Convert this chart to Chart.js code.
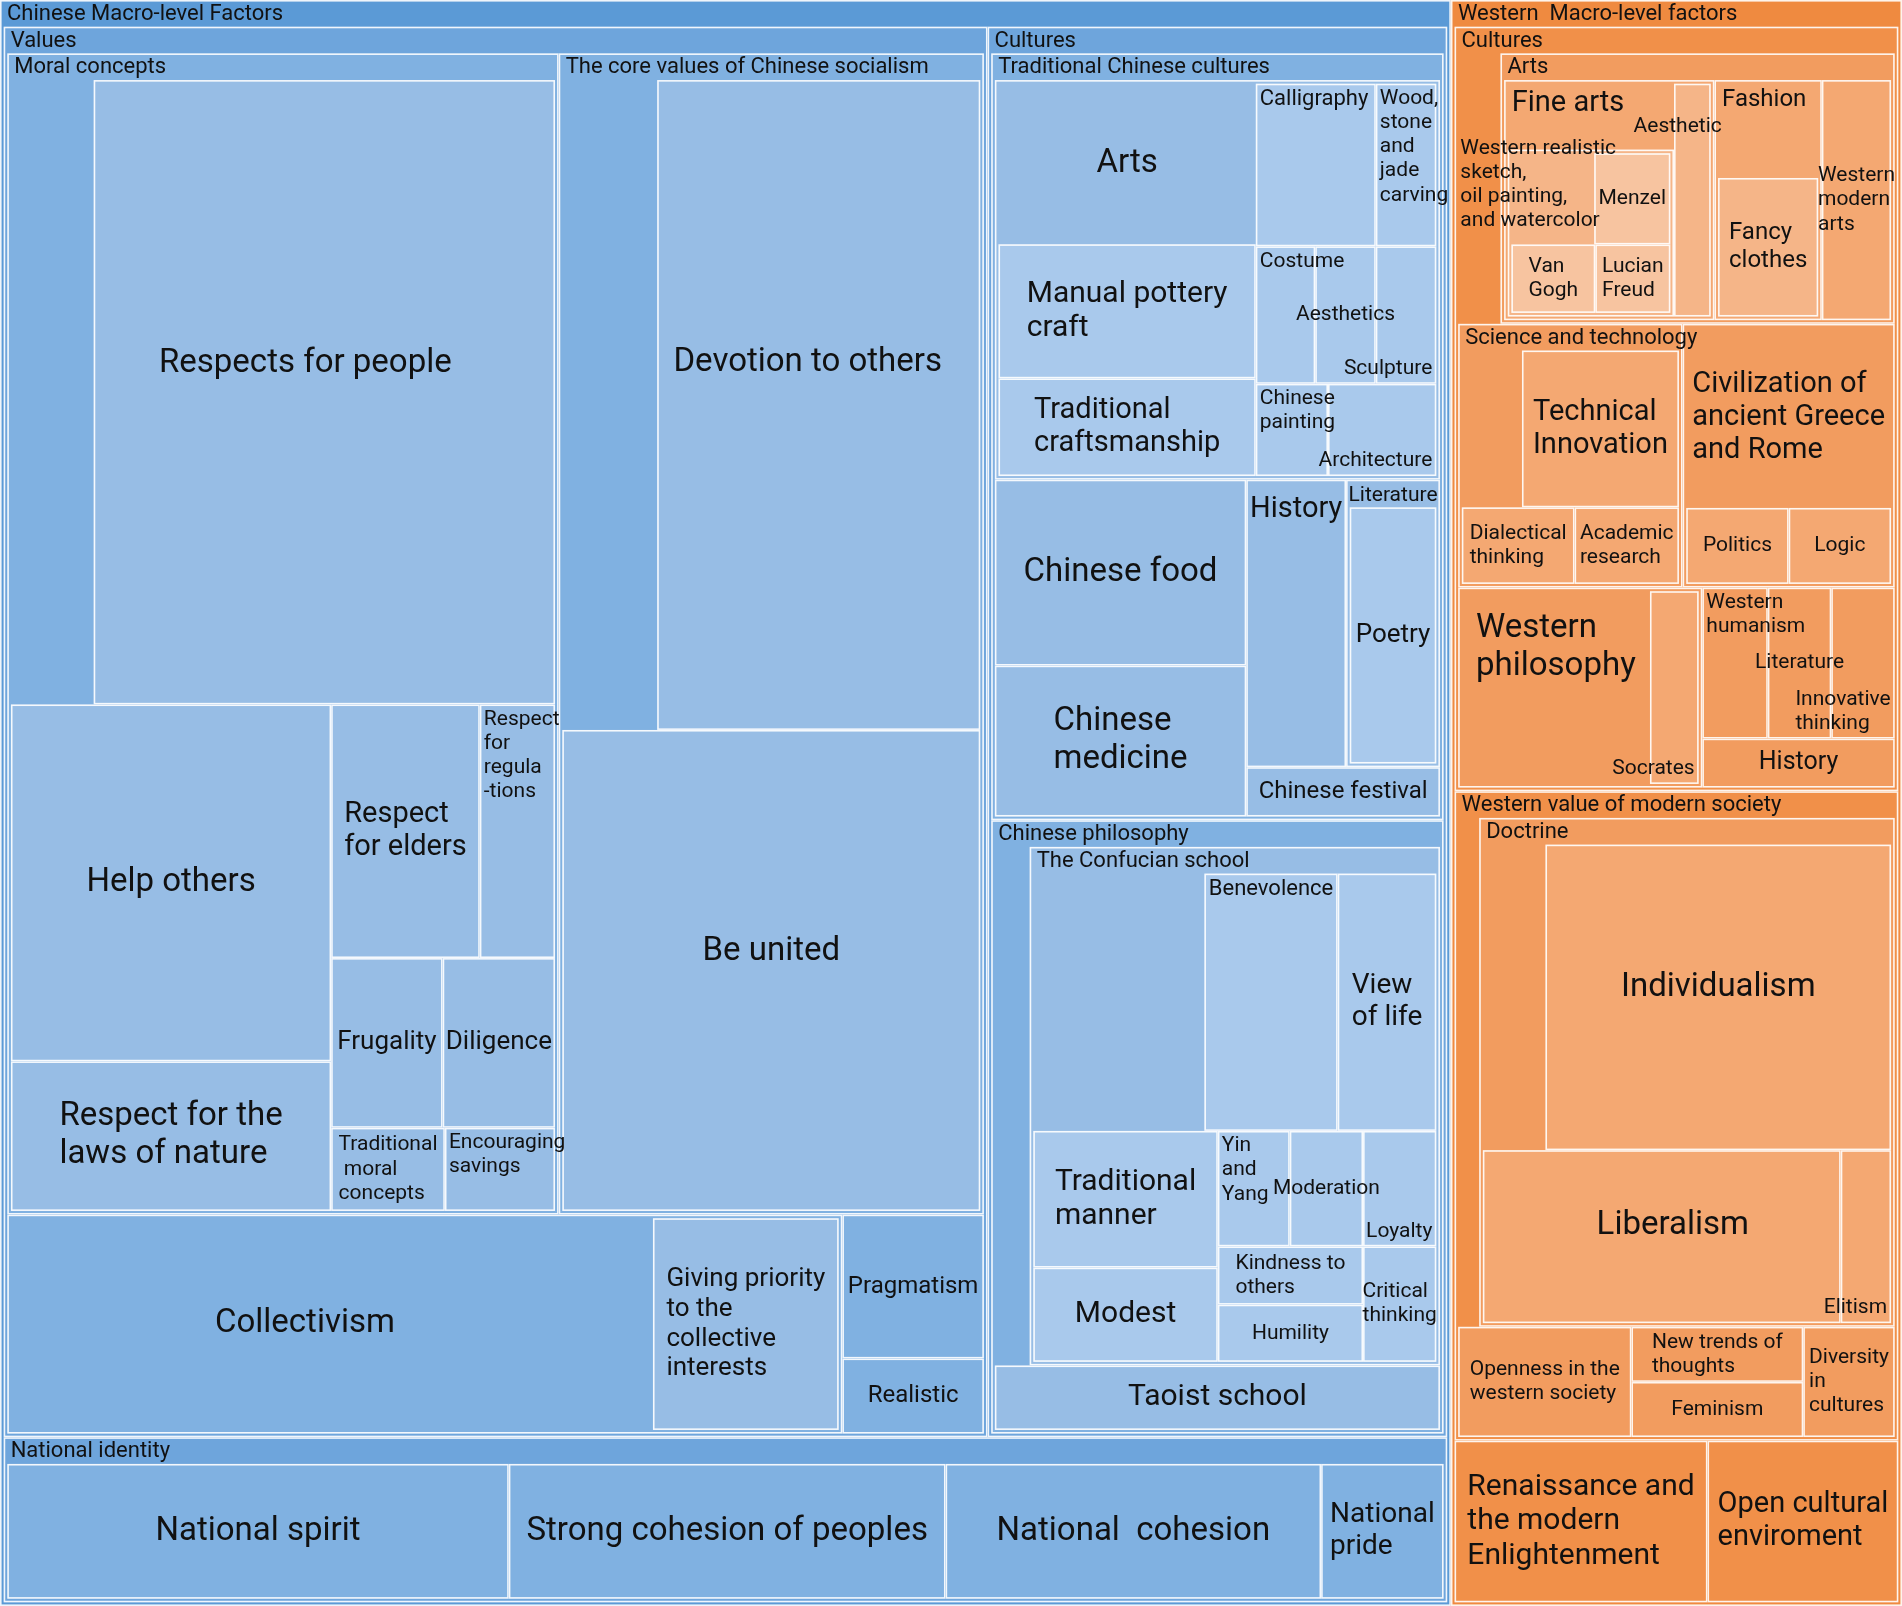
<!DOCTYPE html>
<html>
<head>
<meta charset="utf-8">
<script src="https://cdn.jsdelivr.net/npm/chart.js@4.4.1/dist/chart.umd.min.js"></script>
<style>
  html, body { margin: 0; padding: 0; background: #fff; }
  #wrap { width: 1902px; height: 1606px; }
</style>
</head>
<body>
<div id="wrap"><canvas id="treemap"></canvas></div>
<script>
// each row: id, parent id, label, value (cell area), own value (parent area left visible)
const chineseRows = [
  ['cn', null, 'Chinese Macro-level Factors', 15811],
  ['cnV', 'cn', 'Values', 9345],
  ['cnC', 'cn', 'Cultures', 4366],
  ['cnN', 'cn', 'National identity', 1605],
  ['mor', 'cnV', 'Moral concepts', 4275, 344],
  ['core', 'cnV', 'The core values of Chinese socialism', 3297, 407],
  ['col', 'cnV', 'Collectivism', 1221, 947],
  ['prag', 'cnV', 'Pragmatism', 136],
  ['real', 'cnV', 'Realistic', 71],
  ['resp', 'mor', 'Respects for people', 1918],
  ['help', 'mor', 'Help others', 761],
  ['laws', 'mor', 'Respect for the\nlaws of nature', 319],
  ['eld', 'mor', 'Respect\nfor elders', 251],
  ['reg', 'mor', 'Respect\nfor\nregula\n-tions', 127],
  ['frug', 'mor', 'Frugality', 126],
  ['dil', 'mor', 'Diligence', 127],
  ['tmc', 'mor', 'Traditional\n moral\nconcepts', 63],
  ['sav', 'mor', 'Encouraging\nsavings', 61],
  ['dev', 'core', 'Devotion to others', 1386],
  ['uni', 'core', 'Be united', 1327],
  ['give', 'col', 'Giving priority\nto the\ncollective\ninterests', 274],
  ['tcc', 'cnC', 'Traditional Chinese cultures', 2294],
  ['phil', 'cnC', 'Chinese philosophy', 1835, 117],
  ['arts', 'tcc', 'Arts', 1153, 273],
  ['food', 'tcc', 'Chinese food', 303],
  ['med', 'tcc', 'Chinese\nmedicine', 246],
  ['his', 'tcc', 'History', 186],
  ['lit', 'tcc', 'Literature', 175, 15],
  ['fest', 'tcc', 'Chinese festival', 62],
  ['pot', 'arts', 'Manual pottery\ncraft', 228],
  ['craft', 'arts', 'Traditional\ncraftsmanship', 166],
  ['cal', 'arts', 'Calligraphy', 129],
  ['wood', 'arts', 'Wood,\nstone\nand\njade\ncarving', 65],
  ['cos', 'arts', 'Costume', 54],
  ['aes', 'arts', 'Aesthetics', 55],
  ['scu', 'arts', 'Sculpture', 55],
  ['pai', 'arts', 'Chinese\npainting', 44],
  ['arc', 'arts', 'Architecture', 66],
  ['poe', 'lit', 'Poetry', 160],
  ['conf', 'phil', 'The Confucian school', 1379, 281],
  ['tao', 'phil', 'Taoist school', 186],
  ['ben', 'conf', 'Benevolence', 219],
  ['view', 'conf', 'View\nof life', 162],
  ['man', 'conf', 'Traditional\nmanner', 161],
  ['mod', 'conf', 'Modest', 111],
  ['yin', 'conf', 'Yin\nand\nYang', 53],
  ['mode', 'conf', 'Moderation', 54],
  ['loy', 'conf', 'Loyalty', 54],
  ['kind', 'conf', 'Kindness to\nothers', 54],
  ['hum', 'conf', 'Humility', 53],
  ['crit', 'conf', 'Critical\nthinking', 54],
  ['spi', 'cnN', 'National spirit', 434],
  ['str', 'cnN', 'Strong cohesion of peoples', 378],
  ['coh', 'cnN', 'National  cohesion', 325],
  ['pri', 'cnN', 'National\npride', 106]
];

const westernRows = [
  ['we', null, 'Western  Macro-level factors', 4916],
  ['weC', 'we', 'Cultures', 2265, 74],
  ['weV', 'we', 'Western value of modern society', 1924, 70],
  ['ren', 'we', 'Renaissance and\nthe modern\nEnlightenment', 273],
  ['open', 'we', 'Open cultural\nenviroment', 206],
  ['wart', 'weC', 'Arts', 690],
  ['st', 'weC', 'Science and technology', 383, 59],
  ['civ', 'weC', 'Civilization of\nancient Greece\nand Rome', 362, 247],
  ['wph', 'weC', 'Western\nphilosophy', 316, 251],
  ['whu', 'weC', 'Western\nhumanism', 64],
  ['wlit', 'weC', 'Literature', 62],
  ['inn', 'weC', 'Innovative\nthinking', 62],
  ['whis', 'weC', 'History', 61],
  ['fine', 'wart', 'Fine arts', 319, 73],
  ['fash', 'wart', 'Fashion', 163, 66],
  ['wma', 'wart', 'Western\nmodern\narts', 105],
  ['wr', 'fine', 'Western realistic\nsketch,\noil painting,\nand watercolor', 185, 50],
  ['wae', 'fine', 'Aesthetic', 57],
  ['men', 'wr', 'Menzel', 46],
  ['van', 'wr', 'Van\nGogh', 38],
  ['luc', 'wr', 'Lucian\nFreud', 34],
  ['fan', 'fash', 'Fancy\nclothes', 97],
  ['tech', 'st', 'Technical\nInnovation', 154],
  ['dia', 'st', 'Dialectical\nthinking', 54],
  ['aca', 'st', 'Academic\nresearch', 50],
  ['pol', 'civ', 'Politics', 52],
  ['log', 'civ', 'Logic', 52],
  ['soc', 'wph', 'Socrates', 65],
  ['doc', 'weV', 'Doctrine', 1384, 123],
  ['opn', 'weV', 'Openness in the\nwestern society', 125],
  ['new', 'weV', 'New trends of\nthoughts', 62],
  ['fem', 'weV', 'Feminism', 62],
  ['div', 'weV', 'Diversity\nin\ncultures', 66],
  ['ind', 'doc', 'Individualism', 679],
  ['lib', 'doc', 'Liberalism', 398],
  ['eli', 'doc', 'Elitism', 56]
];

// how each parent slices its area: 'h' = side by side, 'v' = stacked, '@' = parent's own part
const plans = {
  root: ['h', 'cn', 'we'],
  cn: ['v', ['h', 'cnV', 'cnC'], 'cnN'],
  cnV: ['v', ['h', 'mor', 'core'], ['h', 'col', ['v', 'prag', 'real']]],
  mor: ['v', ['h', '@', 'resp'], ['h', ['v', 'help', 'laws'], ['v', ['h', 'eld', 'reg'], ['h', 'frug', 'dil'], ['h', 'tmc', 'sav']]]],
  core: ['v', ['h', '@', 'dev'], 'uni'],
  col: ['h', '@', 'give'],
  cnC: ['v', 'tcc', 'phil'],
  tcc: ['v', 'arts', ['h', ['v', 'food', 'med'], ['v', ['h', 'his', 'lit'], 'fest']]],
  arts: ['h', ['v', '@', 'pot', 'craft'], ['v', ['h', 'cal', 'wood'], ['h', 'cos', 'aes', 'scu'], ['h', 'pai', 'arc']]],
  lit: ['v', '@', 'poe'],
  phil: ['v', ['h', '@', 'conf'], 'tao'],
  conf: ['v', ['h', '@', 'ben', 'view'], ['h', ['v', 'man', 'mod'], ['v', ['h', 'yin', 'mode', 'loy'], ['h', ['v', 'kind', 'hum'], 'crit']]]],
  cnN: ['h', 'spi', 'str', 'coh', 'pri'],
  we: ['v', 'weC', 'weV', ['h', 'ren', 'open']],
  weC: ['v', ['h', '@', 'wart'], ['h', 'st', 'civ'], ['h', 'wph', ['v', ['h', 'whu', 'wlit', 'inn'], 'whis']]],
  wart: ['h', 'fine', 'fash', 'wma'],
  fine: ['h', ['v', '@', 'wr'], 'wae'],
  wr: ['v', ['h', '@', 'men'], ['h', 'van', 'luc']],
  fash: ['v', '@', 'fan'],
  st: ['v', ['h', '@', 'tech'], ['h', 'dia', 'aca']],
  civ: ['v', '@', ['h', 'pol', 'log']],
  wph: ['h', '@', 'soc'],
  weV: ['v', ['h', '@', 'doc'], ['h', 'opn', ['v', 'new', 'fem'], 'div']],
  doc: ['v', ['h', '@', 'ind'], ['h', 'lib', 'eli']]
};

const headed = ['cn', 'cnV', 'cnC', 'cnN', 'mor', 'core', 'tcc', 'phil', 'conf',
                'we', 'weC', 'weV', 'wart', 'st', 'doc'];

// label font sizes (px), default 21
const fontSizes = {
  resp: 33, dev: 33, uni: 33, help: 33, laws: 33, col: 33, spi: 33, str: 33, coh: 33,
  food: 33, med: 33, arts: 33, ind: 33, lib: 33, wph: 33,
  eld: 29, man: 30, mod: 30, tao: 30, pot: 30, craft: 29, his: 29, ren: 30, civ: 29,
  tech: 29, fine: 29, open: 29, pri: 28, view: 28,
  frug: 26, dil: 26, poe: 26, give: 26, fash: 24, fan: 24, whis: 25, fest: 24, prag: 24, real: 24,
  cal: 22, ben: 22
};
const headerSize = 22;

// label placement: [anchor, dx, dy] in px
const anchors = {
  cal: ['tl'], wood: ['tl'], cos: ['tl'], scu: ['br'], pai: ['tl'], arc: ['br'], ben: ['tc'],
  yin: ['tl'], loy: ['br'], reg: ['tl'], sav: ['tl'], his: ['tc', 0, 10], fine: ['tl'], fash: ['tl'],
  wae: ['tr', 15, 28], soc: ['br'], whu: ['tl'], inn: ['br'], eli: ['br'],
  wr: ['tl', -55, -20],
  resp: ['c', -19, -29], dev: ['c', -11, -42], uni: ['c', 0, -19], col: ['c', -27, 0],
  wph: ['c', 0, -40], ind: ['c', 0, -10], lib: ['c', 11, -11]
};

const bluePalette = ['#5b9ad6', '#6ea5dc', '#80b1e1', '#97bde5', '#a9c9ec', '#b7d2f0'];
const orangePalette = ['#ef8a40', '#f19049', '#f29c5f', '#f4a872', '#f5b588', '#f7c4a0'];

const HEAD = 22, PAD = 3;
const nodes = {};
[...chineseRows, ...westernRows].forEach(r => {
  nodes[r[0]] = { id: r[0], parent: r[1], label: r[2], value: r[3], own: r[4] || 0 };
});
Object.values(nodes).forEach(n => {
  let d = 0, p = n;
  while (p.parent) { p = nodes[p.parent]; d++; }
  n.depth = d;
  n.palette = p.id === 'cn' ? bluePalette : orangePalette;
});

function weight(item, owner) {
  if (item === '@') return owner.own;
  if (Array.isArray(item)) return item.slice(1).reduce((s, it) => s + weight(it, owner), 0);
  return nodes[item].value;
}

function placePlan(plan, rect, owner) {
  const dir = plan[0];
  const items = plan.slice(1);
  const ws = items.map(it => weight(it, owner));
  const tot = ws.reduce((a, b) => a + b, 0);
  let off = 0;
  items.forEach((it, i) => {
    const f = ws[i] / tot;
    const r = dir === 'h'
      ? { x: rect.x + off * rect.w, y: rect.y, w: f * rect.w, h: rect.h }
      : { x: rect.x, y: rect.y + off * rect.h, w: rect.w, h: f * rect.h };
    off += f;
    if (it === '@') owner.selfRect = r;
    else if (Array.isArray(it)) placePlan(it, r, owner);
    else placeNode(nodes[it], r);
  });
}

function placeNode(n, r) {
  n.rect = r;
  const plan = plans[n.id];
  if (!plan) return;
  const top = headed.includes(n.id) ? HEAD : PAD;
  placePlan(plan, { x: r.x + PAD, y: r.y + top, w: r.w - 2 * PAD, h: r.h - top - PAD }, n);
}

const X_MAX = 1568, Y_MAX = 1324;
placePlan(plans.root, { x: 0, y: 0, w: X_MAX, h: Y_MAX }, null);

function toPx(chart, r) {
  const xs = chart.scales.x, ys = chart.scales.y;
  const x0 = xs.getPixelForValue(r.x), x1 = xs.getPixelForValue(r.x + r.w);
  const y0 = ys.getPixelForValue(r.y), y1 = ys.getPixelForValue(r.y + r.h);
  return { x0: x0, y0: y0, x1: x1, y1: y1 };
}

function drawLabel(ctx, text, box, size, place) {
  const mode = place[0], dx = place[1] || 0, dy = place[2] || 0;
  const lines = text.split('\n');
  const lh = size * 1.15;
  ctx.font = size + 'px Roboto';
  const bw = Math.max(...lines.map(l => ctx.measureText(l).width));
  const bh = lines.length * lh;
  const cx = (box.x0 + box.x1) / 2, cy = (box.y0 + box.y1) / 2;
  let bx = cx - bw / 2, by = cy - bh / 2;
  if (mode === 'tl') { bx = box.x0 + 4; by = box.y0 + 3; }
  if (mode === 'tc') { by = box.y0 + 3; }
  if (mode === 'tr') { bx = box.x1 - 4 - bw; by = box.y0 + 3; }
  if (mode === 'br') { bx = box.x1 - 4 - bw; by = box.y1 - 3 - bh; }
  bx += dx; by += dy;
  ctx.fillStyle = '#111';
  ctx.textAlign = 'left';
  ctx.textBaseline = 'middle';
  lines.forEach((l, i) => ctx.fillText(l, bx, by + i * lh + lh / 2));
}

const treemapPlugin = {
  id: 'treemap',
  afterDatasetsDraw(chart) {
    const ctx = chart.ctx;
    const list = Object.values(nodes).sort((a, b) => a.depth - b.depth);
    ctx.save();
    list.forEach(n => {
      const b = toPx(chart, n.rect);
      ctx.fillStyle = n.palette[Math.min(n.depth, 5)];
      ctx.fillRect(b.x0, b.y0, b.x1 - b.x0, b.y1 - b.y0);
      ctx.strokeStyle = 'rgba(255,255,255,0.9)';
      ctx.lineWidth = 1.6;
      ctx.strokeRect(b.x0 + 0.8, b.y0 + 0.8, b.x1 - b.x0 - 1.6, b.y1 - b.y0 - 1.6);
    });
    list.forEach(n => {
      const b = toPx(chart, n.rect);
      if (headed.includes(n.id)) {
        const hb = toPx(chart, { x: n.rect.x, y: n.rect.y, w: n.rect.w, h: HEAD });
        ctx.font = headerSize + 'px Roboto';
        ctx.fillStyle = '#111';
        ctx.textAlign = 'left';
        ctx.textBaseline = 'middle';
        ctx.fillText(n.label, hb.x0 + 7, (hb.y0 + hb.y1) / 2 + 1);
      } else {
        const box = n.selfRect ? toPx(chart, n.selfRect) : b;
        drawLabel(ctx, n.label, box, fontSizes[n.id] || 21, anchors[n.id] || ['c']);
      }
    });
    ctx.restore();
  }
};

new Chart(document.getElementById('treemap'), {
  type: 'scatter',
  data: { datasets: [{ data: [] }] },
  options: {
    responsive: true,
    maintainAspectRatio: false,
    animation: false,
    layout: { padding: 0 },
    plugins: { legend: { display: false }, tooltip: { enabled: false } },
    scales: {
      x: { type: 'linear', min: 0, max: X_MAX, display: false },
      y: { type: 'linear', min: 0, max: Y_MAX, reverse: true, display: false }
    }
  },
  plugins: [treemapPlugin]
});
</script>
</body>
</html>
